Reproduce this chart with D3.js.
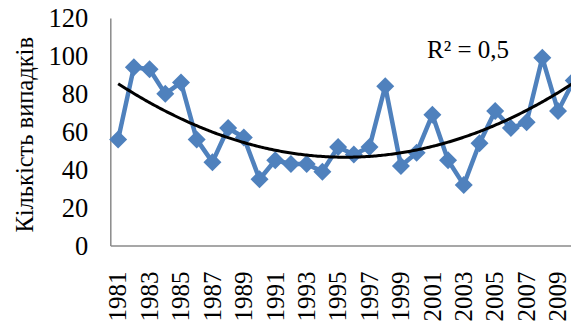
<!DOCTYPE html>
<html>
<head>
<meta charset="utf-8">
<script src="https://cdn.jsdelivr.net/npm/d3@7/dist/d3.min.js"></script>
<style>
  html, body { margin: 0; padding: 0; background: #fff; overflow: hidden; }
  svg { display: block; }
  text { font-family: "Liberation Serif", "Times New Roman", serif; fill: #000; }
</style>
</head>
<body>
<svg id="chart" width="571" height="327"></svg>
<script>
// Annual number of cases, 1981–2010
const years = d3.range(1981, 2011).map(String);
const cases = [56, 94, 93, 80, 86, 56, 44, 62, 57, 35,
               45, 43, 43, 39, 52, 48, 52, 84, 42, 49,
               69, 45, 32, 54, 71, 62, 65, 99, 71, 87];
const yTicks = [0, 20, 40, 60, 80, 100, 120];
const xTickLabels = years.filter((y, i) => i % 2 === 0);
const yTitle = "Кількість випадків";
const r2Label = "R² = 0,5";

const svg = d3.select("#chart");

// plot area: the category axis runs past the right edge of the page
const plotLeft = 110.3, plotTop = 18, plotBottom = 245.6, step = 15.71;
const x = d3.scaleBand().domain(years).range([plotLeft, plotLeft + step * years.length]).paddingInner(0).paddingOuter(0);
const y = d3.scaleLinear().domain([0, 120]).range([plotBottom, plotTop]);
const cx = d => x(d) + x.bandwidth() / 2;

// axes
const yAxis = d3.axisLeft(y).tickValues(yTicks).tickSize(0).tickPadding(22);
const gy = svg.append("g").attr("transform", `translate(${plotLeft},0)`).call(yAxis);
gy.select(".domain").attr("stroke", "#8a8a8a").attr("stroke-width", 1.5);
gy.selectAll("text").attr("font-size", 26.5).attr("dy", "0.33em");

const xAxis = d3.axisBottom(x).tickValues(xTickLabels).tickSize(0).tickPadding(0);
const gx = svg.append("g").attr("transform", `translate(0,${plotBottom})`).call(xAxis);
gx.select(".domain").attr("stroke", "#8a8a8a").attr("stroke-width", 1.5);
gx.selectAll("text")
  .attr("font-size", 25)
  .attr("text-anchor", "end")
  .attr("transform", "rotate(-90)")
  .attr("x", -26)
  .attr("y", 0)
  .attr("dy", "0.33em");

// axis title
svg.append("text")
  .attr("transform", `translate(33,${(plotTop + plotBottom) / 2 + 3}) rotate(-90)`)
  .attr("text-anchor", "middle")
  .attr("font-size", 24.5)
  .text(yTitle);

// series line + diamond markers
const pts = years.map((yr, i) => [cx(yr), y(cases[i])]);
svg.append("path")
  .attr("d", d3.line()(pts))
  .attr("fill", "none")
  .attr("stroke", "#4f81bd")
  .attr("stroke-width", 4.5)
  .attr("stroke-linejoin", "round");

svg.append("g").selectAll("path")
  .data(years)
  .join("path")
  .attr("transform", (d, i) => `translate(${cx(d)},${y(cases[i])})`)
  .attr("d", "M0,-9L9,0L0,9L-9,0Z")
  .attr("fill", "#4f81bd");

// second-order polynomial trend (least squares)
function polyFit2(xs, ys) {
  let S = [0, 0, 0, 0, 0], T = [0, 0, 0];
  xs.forEach((t, i) => {
    for (let k = 0; k < 5; k++) S[k] += Math.pow(t, k);
    for (let k = 0; k < 3; k++) T[k] += ys[i] * Math.pow(t, k);
  });
  const A = [[S[0], S[1], S[2], T[0]], [S[1], S[2], S[3], T[1]], [S[2], S[3], S[4], T[2]]];
  for (let c = 0; c < 3; c++) {
    for (let r = c + 1; r < 3; r++) {
      const f = A[r][c] / A[c][c];
      for (let k = c; k < 4; k++) A[r][k] -= f * A[c][k];
    }
  }
  const b = [0, 0, 0];
  for (let r = 2; r >= 0; r--) {
    let s = A[r][3];
    for (let k = r + 1; k < 3; k++) s -= A[r][k] * b[k];
    b[r] = s / A[r][r];
  }
  return t => b[0] + b[1] * t + b[2] * t * t;
}
const idx = years.map((d, i) => i + 1);
const trend = polyFit2(idx, cases);
const trendPts = d3.range(1, years.length + 0.001, 0.1).map(t => [plotLeft + step * (t - 0.5), y(trend(t))]);
svg.append("path")
  .attr("d", d3.line()(trendPts))
  .attr("fill", "none")
  .attr("stroke", "#000")
  .attr("stroke-width", 3);

// goodness-of-fit label
svg.append("text")
  .attr("x", 427)
  .attr("y", 58)
  .attr("font-size", 25)
  .text(r2Label);
</script>
</body>
</html>
